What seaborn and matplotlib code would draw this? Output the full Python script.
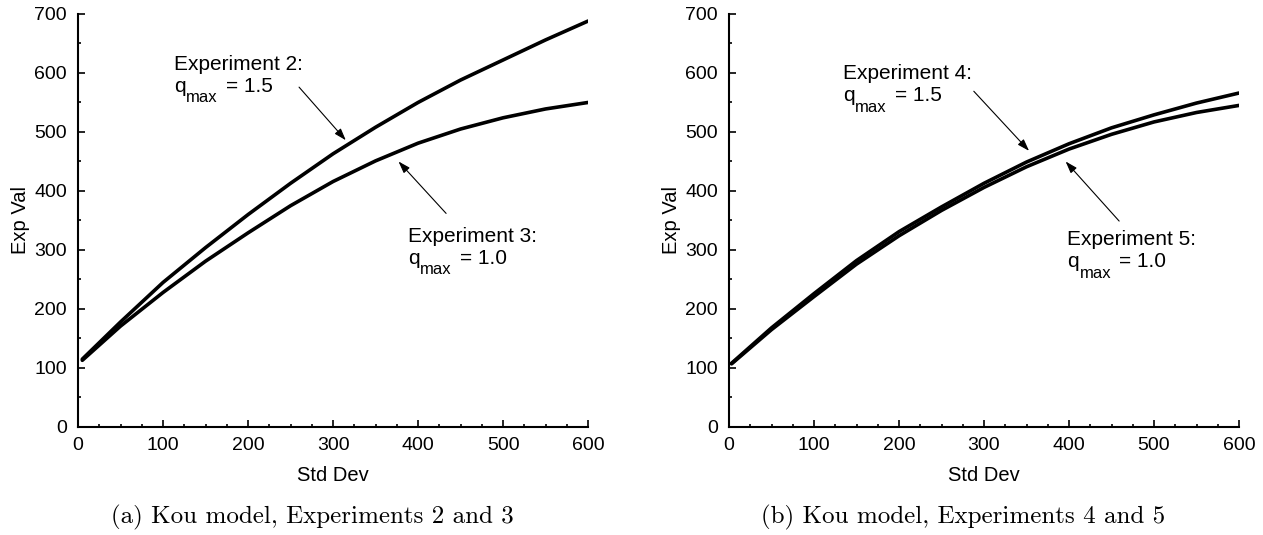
import matplotlib
matplotlib.use("Agg")
import matplotlib.pyplot as plt
from matplotlib.ticker import MultipleLocator
import pandas as pd
import seaborn as sns

# Standard deviation grid and expected values for each experiment
std_dev_a = [5, 50, 100, 150, 200, 250, 300, 350, 400, 450, 500, 550, 600]
exp2_vals = [115, 178, 245, 304, 360, 413, 463, 508, 550, 588, 622, 656, 688]
exp3_vals = [113, 171, 228, 281, 329, 375, 416, 451, 481, 505, 524, 539, 550]

std_dev_b = [3, 50, 100, 150, 200, 250, 300, 350, 400, 450, 500, 550, 600]
exp4_vals = [108, 168, 226, 282, 331, 373, 413, 449, 480, 507, 529, 549, 566]
exp5_vals = [107, 165, 221, 276, 324, 367, 406, 441, 471, 496, 517, 533, 545]

x_ticks = [0, 100, 200, 300, 400, 500, 600]
y_ticks = [0, 100, 200, 300, 400, 500, 600, 700]

run_names = ["Experiment 2:", "Experiment 3:", "Experiment 4:", "Experiment 5:"]
q_max_vals = ["1.5", "1.0", "1.5", "1.0"]

captions = ["(a) Kou model, Experiments 2 and 3",
            "(b) Kou model, Experiments 4 and 5"]

sns.set_theme(style="ticks")
plt.rcParams.update({
    "font.family": ["Liberation Sans", "DejaVu Sans"],
    "text.color": "black",
    "axes.labelcolor": "black",
    "xtick.color": "black",
    "ytick.color": "black",
    "axes.edgecolor": "black",
})

fig = plt.figure(figsize=(12.63, 5.35), dpi=100)
ax_a = fig.add_axes([0.0618, 0.2019, 0.4038, 0.7720])
ax_b = fig.add_axes([0.5772, 0.2019, 0.4038, 0.7720])


def long_frame(x, series):
    rows = []
    for name, vals in series.items():
        for xi, yi in zip(x, vals):
            rows.append({"Std Dev": xi, "Exp Val": yi, "run": name})
    return pd.DataFrame(rows)


df_a = long_frame(std_dev_a, {"Experiment 2": exp2_vals, "Experiment 3": exp3_vals})
df_b = long_frame(std_dev_b, {"Experiment 4": exp4_vals, "Experiment 5": exp5_vals})

for ax, df in ((ax_a, df_a), (ax_b, df_b)):
    sns.lineplot(data=df, x="Std Dev", y="Exp Val", units="run", estimator=None,
                 color="black", linewidth=2.6, sort=False, legend=False, ax=ax)
    ax.set_xlim(0, 600)
    ax.set_ylim(0, 700)
    ax.set_xticks(x_ticks)
    ax.set_yticks(y_ticks)
    ax.xaxis.set_minor_locator(MultipleLocator(25))
    ax.yaxis.set_minor_locator(MultipleLocator(50))
    ax.tick_params(which="both", direction="in", width=1.2, labelsize=14)
    ax.tick_params(axis="x", pad=7)
    ax.tick_params(axis="y", pad=8)
    ax.tick_params(which="major", length=5)
    ax.tick_params(which="minor", length=2.5)
    for side in ("top", "right"):
        ax.spines[side].set_visible(False)
    for side in ("left", "bottom"):
        ax.spines[side].set_linewidth(1.5)
    ax.set_xlabel("Std Dev", fontsize=14.5, labelpad=9)
    ax.set_ylabel("Exp Val", fontsize=14.5, labelpad=3)
    ax.set_facecolor("white")

PX = 0.72  # points per pixel at 100 dpi


def label_with_arrow(ax, anchor, name, q_val, tail, tip, fs=15):
    # anchor is the left end of the "q" baseline
    common = dict(xy=anchor, xycoords="data", textcoords="offset points",
                  ha="left", va="baseline")
    ax.annotate(name, xytext=(0, 22 * PX), fontsize=fs, **common)
    ax.annotate("q", xytext=(0, 0), fontsize=fs, **common)
    ax.annotate("max", xytext=(12.3 * PX, -10.5 * PX), fontsize=fs * 0.8, **common)
    ax.annotate("= " + q_val, xytext=(52 * PX, 0), fontsize=fs, **common)
    ax.annotate("", xy=tip, xytext=tail,
                arrowprops=dict(arrowstyle="-|>,head_length=0.6,head_width=0.2",
                                color="black", lw=0.8, shrinkA=0, shrinkB=0))


label_with_arrow(ax_a, (113, 568), run_names[0], q_max_vals[0], (260, 576), (315, 486))
label_with_arrow(ax_a, (388, 277), run_names[1], q_max_vals[1], (433, 362), (377, 450))
label_with_arrow(ax_b, (134, 552), run_names[2], q_max_vals[2], (288, 569), (353, 468))
label_with_arrow(ax_b, (398, 271), run_names[3], q_max_vals[3], (459, 349), (396, 450))

fig.text(312 / 1263, 1 - 517 / 535, captions[0], family="cmr10", fontsize=18,
         ha="center", va="center")
fig.text(963 / 1263, 1 - 517 / 535, captions[1], family="cmr10", fontsize=18,
         ha="center", va="center")

fig.savefig("out.png", dpi=100, facecolor="white")
